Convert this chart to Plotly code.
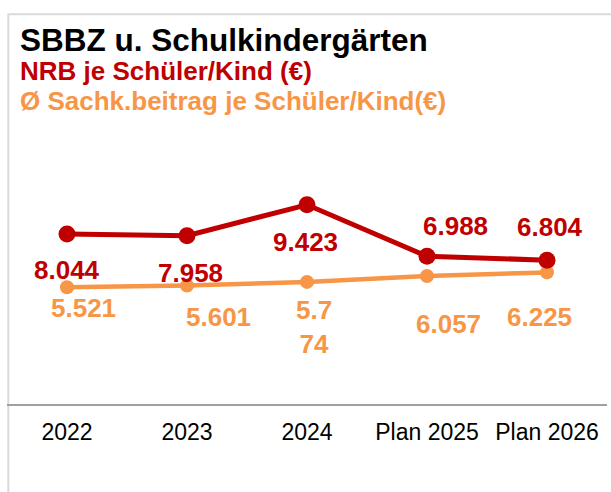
import plotly.graph_objects as go

# ---- data ----
categories = ["2022", "2023", "2024", "Plan 2025", "Plan 2026"]
nrb_values = [8044, 7958, 9423, 6988, 6804]
sachk_values = [5521, 5601, 5774, 6057, 6225]

title_text = "SBBZ u. Schulkindergärten"
nrb_name = "NRB je Schüler/Kind (€)"
sachk_name = "Ø Sachk.beitrag je Schüler/Kind(€)"

# ---- style ----
RED = "#C00000"
ORANGE = "#F79646"
FONT = "Liberation Sans, Arial, sans-serif"

# label offsets in pixels (dx right, dy down)
nrb_label_dx = [0, 3, -2, 28, 3]
nrb_label_dy = [36, 37, 37, -30, -33]
sachk_label_dx = [16, 31, 7, 21, -8]
sachk_label_dy = [21, 31, 45, 48, 45]
sachk_wrap_at = [None, None, 3, None, None]


def fmt(v):
    return f"{v:,}".replace(",", ".")


fig = go.Figure()

fig.add_trace(go.Scatter(
    x=categories, y=sachk_values, mode="lines+markers", name=sachk_name,
    line=dict(color=ORANGE, width=4.5),
    marker=dict(color=ORANGE, size=14),
    cliponaxis=False, hoverinfo="skip",
))
fig.add_trace(go.Scatter(
    x=categories, y=nrb_values, mode="lines+markers", name=nrb_name,
    line=dict(color=RED, width=5),
    marker=dict(color=RED, size=17),
    cliponaxis=False, hoverinfo="skip",
))

annotations = []
for i, v in enumerate(nrb_values):
    annotations.append(dict(
        x=i, y=v, xref="x", yref="y", text=fmt(v), showarrow=False,
        xshift=nrb_label_dx[i], yshift=-nrb_label_dy[i],
        font=dict(family=FONT, size=26, color=RED, weight="bold"),
        xanchor="center", yanchor="middle",
    ))
for i, v in enumerate(sachk_values):
    t = fmt(v)
    if sachk_wrap_at[i]:
        t = t[:sachk_wrap_at[i]] + "<br>" + t[sachk_wrap_at[i]:]
    annotations.append(dict(
        x=i, y=v, xref="x", yref="y", text=t, showarrow=False,
        xshift=sachk_label_dx[i], yshift=-sachk_label_dy[i],
        font=dict(family=FONT, size=26, color=ORANGE, weight="bold"),
        xanchor="center", yanchor="middle",
    ))

# title block (paper coords relative to plot area)
W, H = 611, 492
ML, MR, MT, MB = 7, 4, 108, 88
PW, PH = W - ML - MR, H - MT - MB


def px_x(px):
    return (px - ML) / PW


def px_y(py):
    return (H - MB - py) / PH


annotations += [
    dict(x=px_x(18), y=px_y(40), xref="paper", yref="paper", text=title_text,
         showarrow=False, xanchor="left", yanchor="middle",
         font=dict(family=FONT, size=31.5, color="#000000", weight="bold")),
    dict(x=px_x(18), y=px_y(71), xref="paper", yref="paper", text=nrb_name,
         showarrow=False, xanchor="left", yanchor="middle",
         font=dict(family=FONT, size=26, color=RED, weight="bold")),
    dict(x=px_x(18), y=px_y(101), xref="paper", yref="paper", text=sachk_name,
         showarrow=False, xanchor="left", yanchor="middle",
         font=dict(family=FONT, size=26, color=ORANGE, weight="bold")),
]

shapes = [dict(
    type="rect", xref="paper", yref="paper",
    x0=px_x(8.3), x1=px_x(W + 40), y0=px_y(H + 40), y1=px_y(14.3),
    line=dict(color="#D9D9D9", width=2), fillcolor="rgba(0,0,0,0)", layer="below",
)]

fig.update_layout(
    width=W, height=H,
    margin=dict(l=ML, r=MR, t=MT, b=MB, pad=0),
    paper_bgcolor="white", plot_bgcolor="white",
    showlegend=False,
    annotations=annotations, shapes=shapes,
    font=dict(family=FONT),
    xaxis=dict(
        type="category", range=[-0.5, 4.5], showgrid=False, zeroline=False,
        showline=True, linecolor="#A0A0A0", linewidth=2,
        ticks="", ticklabelstandoff=6,
        tickfont=dict(family=FONT, size=23, color="#000000"),
        fixedrange=True,
    ),
    yaxis=dict(range=[0, 14000], visible=False, fixedrange=True),
)

fig.write_html(
    "out.html",
    config={"displayModeBar": False},
    post_script="document.body.style.margin='0';document.body.style.padding='0';",
)
